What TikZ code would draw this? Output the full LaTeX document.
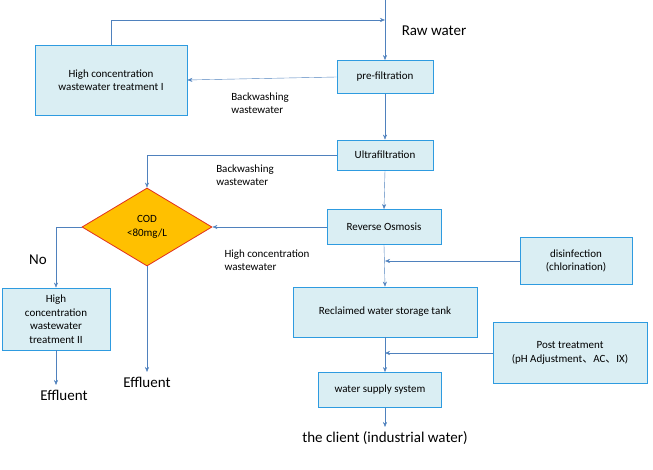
\documentclass[tikz,border=0pt]{standalone}
\usepackage{fontspec}
\setmainfont{Carlito}
\newfontfamily\cjk{Noto Sans CJK SC}
\usetikzlibrary{shapes.geometric, arrows.meta, positioning}
\definecolor{boxline}{HTML}{2E9BE0}
\definecolor{boxfill}{HTML}{DAEEF3}
\definecolor{arrline}{HTML}{4F81BD}
\definecolor{codfill}{HTML}{FFC000}
\definecolor{codline}{HTML}{E0301E}

\begin{document}
\begin{tikzpicture}[x=1pt, y=-1pt, >={Stealth[length=5pt,width=4pt]},
    procbox/.style={draw=boxline, thick, fill=boxfill, align=center, font=\fontsize{11}{13.5}\selectfont, inner sep=2pt},
    flow/.style={->, draw=arrline},
    note/.style={align=left, font=\fontsize{11}{13.5}\selectfont},
    big/.style={font=\fontsize{15}{17}\selectfont}]
    \useasboundingbox (0,0) rectangle (653,470);

    % main line
    \coordinate (top) at (385,0);
    \node [procbox, minimum width=96pt, minimum height=33pt] (pre) at (385,77) {pre-filtration};
    \node [procbox, minimum width=96pt, minimum height=30pt] (uf) at (385,155) {Ultrafiltration};
    \node [procbox, minimum width=114pt, minimum height=35pt] (ro) at (384,227) {Reverse Osmosis};
    \node [procbox, minimum width=184pt, minimum height=50pt] (tank) at (385,312) {Reclaimed water storage tank};
    \node [procbox, minimum width=123pt, minimum height=35pt] (wss) at (380,390) {water supply system};
    \coordinate (client) at (385,427);
    \node [big] (raw) at (434,31) {Raw water};
    \node [big, below=1pt of client] (clientlbl) {the client (industrial water)};

    % side boxes
    \node [procbox, minimum width=152pt, minimum height=70pt] (hw1) at (111,80) {High concentration\\wastewater treatment I};
    \node [procbox, minimum width=112pt, minimum height=47pt] (dis) at (576,261) {disinfection\\(chlorination)};
    \node [procbox, minimum width=154pt, minimum height=61pt] (post) at (570,353) {Post treatment\\(pH Adjustment{\cjk 、}AC{\cjk 、}IX)};
    \node [procbox, minimum width=108pt, minimum height=62pt] (hw2) at (56,319) {High\\concentration\\wastewater\\treatment II};
    \node [diamond, draw=codline, thick, fill=codfill, aspect=1.65, inner sep=1pt, align=center, font=\fontsize{11}{13.5}\selectfont, minimum width=130pt, minimum height=78pt] (cod) at (147,227) {COD\\{<}80mg/L};

    % connectors
    \draw [flow] (top) -- (pre.north);
    \draw [flow] (hw1.north) |- (385,20);
    \draw [flow] (pre.west) -- (hw1.east);
    \draw [flow] (pre.south) -- (uf.north);
    \draw [flow] (uf.west) -| (cod.north);
    \draw [flow] (uf.south) -- (ro.north);
    \draw [flow] (ro.west) -- (cod.east);
    \draw [flow] (ro.south) -- (tank.north);
    \draw [flow] (dis.west) -- (385,261);
    \draw [flow] (tank.south) -- (wss.north -| tank.south);
    \draw [flow] (post.west) -- (385,353);
    \draw [flow] (wss.south -| client) -- (client);
    \draw [flow] (cod.west) -| (hw2.north);
    \coordinate (eff1) at (147,372);
    \coordinate (eff2) at (56,385);
    \draw [flow] (cod.south) -- (eff1);
    \draw [flow] (hw2.south) -- (eff2);

    % labels
    \node [big, below=2pt of eff1] (efflbl1) {Effluent};
    \node [big, below=2pt of eff2, xshift=8pt] (efflbl2) {Effluent};
    \node [big] (no) at (38,260) {No};
    \node [note] (bw1) at (260,103) {Backwashing\\wastewater};
    \node [note] (bw2) at (245,175) {Backwashing\\wastewater};
    \node [note] (hcw) at (267,260) {High concentration\\wastewater};
\end{tikzpicture}
\end{document}
